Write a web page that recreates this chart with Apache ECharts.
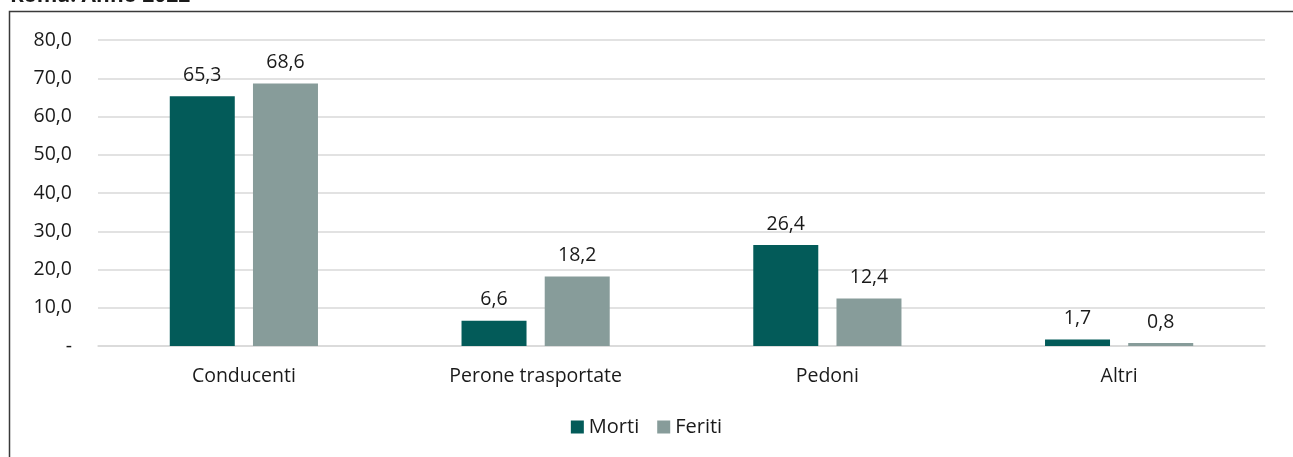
<!DOCTYPE html>
<html>
<head>
<meta charset="utf-8">
<script src="https://cdn.jsdelivr.net/npm/echarts@6/dist/echarts.min.js"></script>
<style>
  html, body { margin: 0; padding: 0; background: #fff; }
  #chart { width: 1293px; height: 457px; }
</style>
</head>
<body>
<div id="chart"></div>
<script>
const categories = ["Conducenti", "Perone trasportate", "Pedoni", "Altri"];
const morti = [65.3, 6.6, 26.4, 1.7];
const feriti = [68.6, 18.2, 12.4, 0.8];
const yTicks = [0, 10, 20, 30, 40, 50, 60, 70, 80];

const fontFamily = "'Open Sans', 'Noto Sans', sans-serif";
const fmt = (v) => (v === 0 ? "-" : v.toFixed(1).replace(".", ","));

const chart = echarts.init(document.getElementById("chart"), null, { renderer: "canvas" });

const option = {
  animation: false,
  textStyle: { fontFamily: fontFamily },
  color: ["#035b59", "#879c9a"],
  graphic: [
    {
      type: "rect",
      shape: { x: 9.5, y: 11.5, width: 1400, height: 500 },
      style: { fill: null, stroke: "#3a3a3a", lineWidth: 1.5 },
      silent: true,
    },
    {
      type: "text",
      x: 10,
      y: -14,
      style: {
        text: "Roma. Anno 2022",
        font: "bold 21px " + fontFamily,
        fill: "#1a1a1a",
        verticalAlign: "top",
      },
      silent: true,
    },
  ],
  grid: {
    left: 98,
    right: 28,
    top: 40,
    bottom: 111,
    containLabel: false,
  },
  legend: {
    bottom: 15,
    left: "center",
    itemWidth: 13,
    itemHeight: 13,
    itemGap: 18,
    icon: "rect",
    textStyle: { fontSize: 20, color: "#1a1a1a", fontFamily: fontFamily },
    data: ["Morti", "Feriti"],
  },
  xAxis: {
    type: "category",
    data: categories,
    axisLine: { show: true, lineStyle: { color: "#d9d9d9", width: 1.5 } },
    axisTick: { show: false },
    axisLabel: { fontSize: 19.5, color: "#1a1a1a", margin: 20 },
  },
  yAxis: {
    type: "value",
    min: yTicks[0],
    max: yTicks[yTicks.length - 1],
    interval: 10,
    axisLine: { show: false },
    axisTick: { show: false },
    splitLine: { lineStyle: { color: "#d9d9d9", width: 1.5 } },
    axisLabel: {
      fontSize: 19.5,
      color: "#1a1a1a",
      margin: 26,
      formatter: fmt,
    },
  },
  series: [
    {
      name: "Morti",
      type: "bar",
      data: morti,
      barWidth: 65,
      barGap: "28%",
      label: {
        show: true,
        position: "top",
        distance: 11,
        fontSize: 19.5,
        color: "#1a1a1a",
        formatter: (p) => fmt(p.value),
      },
    },
    {
      name: "Feriti",
      type: "bar",
      data: feriti,
      barWidth: 65,
      label: {
        show: true,
        position: "top",
        distance: 11,
        fontSize: 19.5,
        color: "#1a1a1a",
        formatter: (p) => fmt(p.value),
      },
    },
  ],
};

chart.setOption(option);
</script>
</body>
</html>
